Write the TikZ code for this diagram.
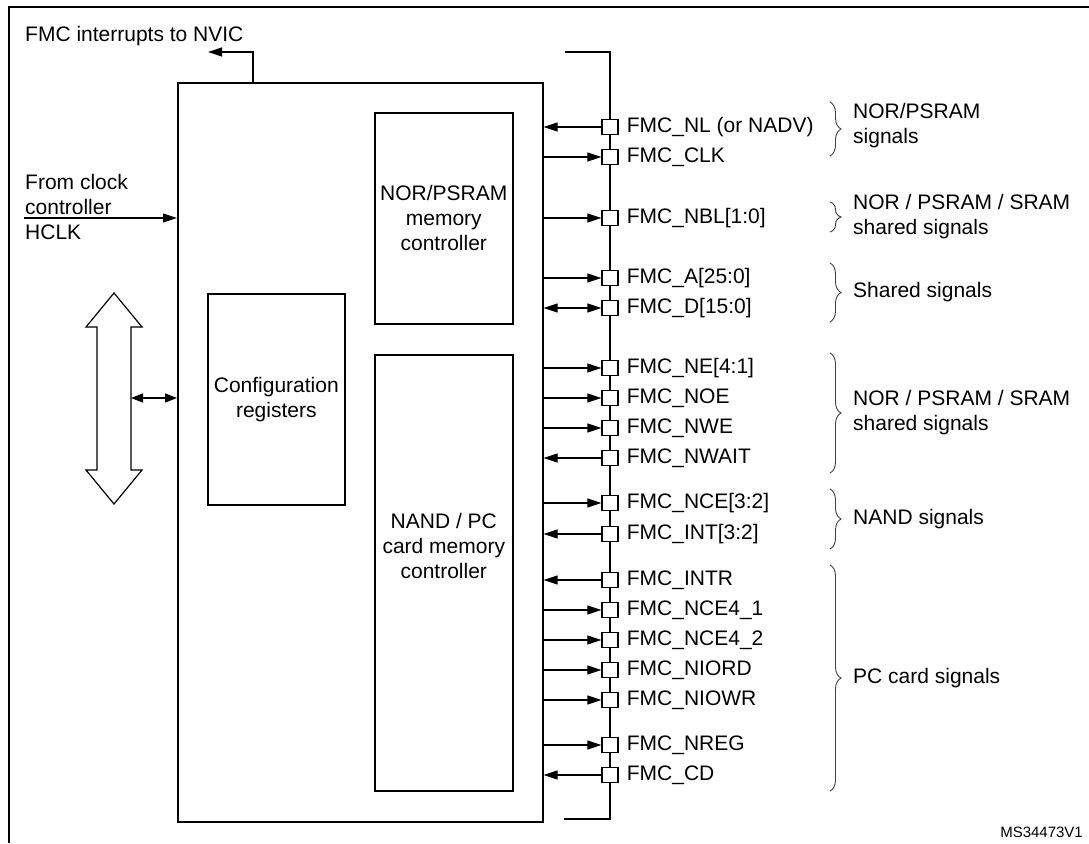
\documentclass[tikz,border=0pt]{standalone}
\usepackage{fontspec}
\setmainfont{Liberation Sans}
\usetikzlibrary{positioning, arrows.meta, decorations.pathreplacing, calc}

\begin{document}
\begin{tikzpicture}[
    x=1pt, y=-1pt,
    every node/.style={font=\fontsize{21}{25}\selectfont},
    bloc/.style={rectangle, draw=black, line width=1.6pt, inner sep=0pt,
      anchor=north west},
    txt/.style={align=center, inner sep=0pt},
    pin/.style={rectangle, draw=black, fill=white, line width=1.3pt,
      minimum width=16pt, minimum height=15pt, inner sep=0pt},
    sig/.style={inner sep=0pt, anchor=west},
    group/.style={inner sep=0pt, anchor=west, align=left},
    line/.style={-, line width=1.2pt},
    sortie/.style={line, -{Triangle[length=14pt, width=9pt]}},
    bidir/.style={line, {Triangle[length=14pt, width=9pt]}-{Triangle[length=14pt, width=9pt]}},
    bus/.style={line width=1.5pt},
    accolade/.style={decorate, decoration={brace, amplitude=11pt},
      draw=black!75, line width=0.9pt}
    ]

    \useasboundingbox (0,0) rectangle (1089,843);

    % Cadre
    \coordinate (cadreNE) at (1089,7);
    \coordinate (cadreNW) at (9,7);
    \coordinate (cadreSW) at (9,843);
    \draw[line width=1.5pt] (cadreNE) -- (cadreNW) -- (cadreSW);

    % Blocs
    \node[bloc, minimum width=365pt, minimum height=739pt] (FMC) at (177,82) {};
    \node[bloc, minimum width=138pt, minimum height=211pt] (NOR) at (374,112) {};
    \node[bloc, minimum width=138pt, minimum height=436pt] (NAND) at (374,354) {};
    \node[bloc, minimum width=137pt, minimum height=211pt] (Config) at (207,293) {};

    \node[txt] (NORtxt) at (NOR.center) {NOR/PSRAM\\memory\\controller};
    \node[txt] (NANDtxt) at ($(NAND.center)+(0,-27)$) {NAND / PC\\card memory\\controller};
    \node[txt] (Configtxt) at (Config.center) {Configuration\\registers};

    % Interruptions
    \node[sig] (irqTxt) at (25,36) {FMC interrupts to NVIC};
    \coordinate (irqBase) at (253,82);
    \coordinate (irq) at (208,52);
    \draw[sortie] (irqBase) |- (irq);

    % Horloge
    \node[group] (clkTxt) at (25,207) {From clock\\controller\\HCLK};
    \coordinate (clk) at (24,218);
    \draw[sortie] (clk) -- (FMC.west |- clk);

    % Bus systeme
    \draw[line, fill=white] (114,293) -- (142,327) -- (131,327) -- (131,470)
      -- (142,470) -- (114,504) -- (86,470) -- (97,470) -- (97,327)
      -- (86,327) -- cycle;
    \coordinate (busSys) at (131,398);
    \draw[line, {Triangle[length=12pt, width=9pt]}-{Triangle[length=12pt, width=9pt]}]
      (busSys) -- (FMC.west |- busSys);

    % Bus externe
    \coordinate (busNW) at (565,52);
    \coordinate (busNE) at (610,52);
    \coordinate (busSE) at (610,819);
    \coordinate (busSW) at (564,819);
    \draw[bus] (busNW) -- (busNE) -- (busSE) -- (busSW);

    % Broches
    \node[pin] (NL) at (610,127) {};
    \node[sig, right=8pt of NL] (NLtxt) {FMC\_NL (or NADV)};
    \draw[sortie] (NL) -- (FMC.east |- NL);

    \node[pin] (CLK) at (610,157) {};
    \node[sig, right=8pt of CLK] (CLKtxt) {FMC\_CLK};
    \draw[sortie] (FMC.east |- CLK) -- (CLK);

    \node[pin] (NBL) at (610,218) {};
    \node[sig, right=8pt of NBL] (NBLtxt) {FMC\_NBL[1:0]};
    \draw[sortie] (FMC.east |- NBL) -- (NBL);

    \node[pin] (A) at (610,278) {};
    \node[sig, right=8pt of A] (Atxt) {FMC\_A[25:0]};
    \draw[sortie] (FMC.east |- A) -- (A);

    \node[pin] (D) at (610,308) {};
    \node[sig, right=8pt of D] (Dtxt) {FMC\_D[15:0]};
    \draw[bidir] (FMC.east |- D) -- (D);

    \node[pin] (NE) at (610,368) {};
    \node[sig, right=8pt of NE] (NEtxt) {FMC\_NE[4:1]};
    \draw[sortie] (FMC.east |- NE) -- (NE);

    \node[pin] (NOE) at (610,398) {};
    \node[sig, right=8pt of NOE] (NOEtxt) {FMC\_NOE};
    \draw[sortie] (FMC.east |- NOE) -- (NOE);

    \node[pin] (NWE) at (610,428) {};
    \node[sig, right=8pt of NWE] (NWEtxt) {FMC\_NWE};
    \draw[sortie] (FMC.east |- NWE) -- (NWE);

    \node[pin] (NWAIT) at (610,458) {};
    \node[sig, right=8pt of NWAIT] (NWAITtxt) {FMC\_NWAIT};
    \draw[sortie] (NWAIT) -- (FMC.east |- NWAIT);

    \node[pin] (NCE) at (610,503) {};
    \node[sig, right=8pt of NCE] (NCEtxt) {FMC\_NCE[3:2]};
    \draw[sortie] (FMC.east |- NCE) -- (NCE);

    \node[pin] (INT) at (610,534) {};
    \node[sig, right=8pt of INT] (INTtxt) {FMC\_INT[3:2]};
    \draw[sortie] (INT) -- (FMC.east |- INT);

    \node[pin] (INTR) at (610,580) {};
    \node[sig, right=8pt of INTR] (INTRtxt) {FMC\_INTR};
    \draw[sortie] (INTR) -- (FMC.east |- INTR);

    \node[pin] (NCEa) at (610,610) {};
    \node[sig, right=8pt of NCEa] (NCEatxt) {FMC\_NCE4\_1};
    \draw[sortie] (FMC.east |- NCEa) -- (NCEa);

    \node[pin] (NCEb) at (610,640) {};
    \node[sig, right=8pt of NCEb] (NCEbtxt) {FMC\_NCE4\_2};
    \draw[sortie] (FMC.east |- NCEb) -- (NCEb);

    \node[pin] (NIORD) at (610,670) {};
    \node[sig, right=8pt of NIORD] (NIORDtxt) {FMC\_NIORD};
    \draw[sortie] (FMC.east |- NIORD) -- (NIORD);

    \node[pin] (NIOWR) at (610,700) {};
    \node[sig, right=8pt of NIOWR] (NIOWRtxt) {FMC\_NIOWR};
    \draw[sortie] (FMC.east |- NIOWR) -- (NIOWR);

    \node[pin] (NREG) at (610,745) {};
    \node[sig, right=8pt of NREG] (NREGtxt) {FMC\_NREG};
    \draw[sortie] (FMC.east |- NREG) -- (NREG);

    \node[pin] (CD) at (610,775) {};
    \node[sig, right=8pt of CD] (CDtxt) {FMC\_CD};
    \draw[sortie] (CD) -- (FMC.east |- CD);

    % Groupes de signaux
    \draw[accolade] (830,102) -- (830,156);
    \node[group] (grpNOR) at (853,126) {NOR/PSRAM\\signals};

    \draw[accolade] (830,202) -- (830,232);
    \node[group] (grpNBL) at (853,217) {NOR / PSRAM / SRAM\\shared signals};

    \draw[accolade] (830,263) -- (830,322);
    \node[group] (grpShared) at (853,292) {Shared signals};

    \draw[accolade] (830,353) -- (830,473);
    \node[group] (grpSRAM) at (853,413) {NOR / PSRAM / SRAM\\shared signals};

    \draw[accolade] (830,489) -- (830,549);
    \node[group] (grpNAND) at (853,519) {NAND signals};

    \draw[accolade] (830,565) -- (830,791);
    \node[group] (grpPC) at (853,678) {PC card signals};

    % Reference
    \node[inner sep=0pt, anchor=east, font=\fontsize{15}{18}\selectfont]
      (ref) at (1083,832) {MS34473V1};

  \end{tikzpicture}
\end{document}
